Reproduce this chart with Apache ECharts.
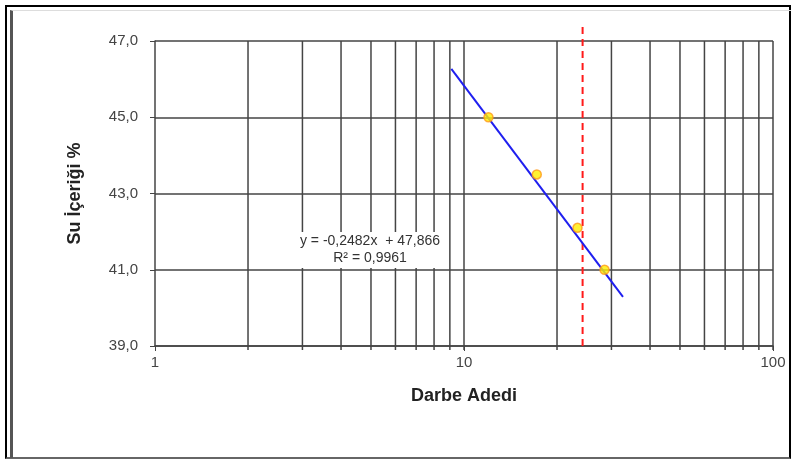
<!DOCTYPE html>
<html>
<head>
<meta charset="utf-8">
<script src="https://cdn.jsdelivr.net/npm/echarts@6/dist/echarts.min.js"></script>
<style>
	html, body { margin: 0; padding: 0; background: #fff; }
	#frame { position: absolute; left: 5px; top: 5px; width: 782px; height: 450px; border: 2px solid #000; border-bottom: 2px solid #666; }
	#inner { position: absolute; left: 10px; top: 10px; width: 779px; height: 447px; border-left: 3px solid #555; border-top: 1px solid #ddd; }
	#chart { position: absolute; left: 0; top: 0; width: 791px; height: 459px; }
</style>
</head>
<body>
<div id="frame"></div>
<div id="inner"></div>
<div id="chart"></div>
<script>
// okunan değerler
const darbe = [12.0, 17.2, 23.3, 28.5];
const suIcerigi = [45.0, 43.5, 42.1, 41.0];
const trendX = [9.1, 32.7];
const trendY = [46.27, 40.29];
const limitX = 24.2; // kırmızı kesikli çizgi
const gridXs = [2, 3, 4, 5, 6, 7, 8, 9, 10, 20, 30, 40, 50, 60, 70, 80, 90, 100];
const yMin = 39, yMax = 47, yStep = 2;

const myChart = echarts.init(document.getElementById("chart"));
const font = "'Liberation Sans', Arial, sans-serif";

let option = {
	animation: false,
	grid: { left: 155, right: 18, top: 41, bottom: 113 },
	xAxis: {
		type: "log",
		logBase: 10,
		min: 1,
		max: 100,
		name: "Darbe Adedi",
		nameLocation: "middle",
		nameGap: 41,
		nameTextStyle: { fontFamily: font, fontSize: 18, fontWeight: "bold", color: "#222" },
		axisLine: { show: true, lineStyle: { color: "#444", width: 1.5 } },
		axisTick: { show: true, length: 5, lineStyle: { color: "#444" } },
		axisLabel: { fontFamily: font, fontSize: 15, color: "#444", margin: 9 },
		splitLine: { show: false }
	},
	yAxis: {
		type: "value",
		min: yMin,
		max: yMax,
		interval: yStep,
		name: "Su İçeriği %",
		nameLocation: "middle",
		nameGap: 71,
		nameRotate: 90,
		nameTextStyle: { fontFamily: font, fontSize: 18, fontWeight: "bold", color: "#222" },
		axisLine: { show: true, lineStyle: { color: "#444", width: 1.5 } },
		axisTick: { show: true, length: 5, lineStyle: { color: "#444" } },
		axisLabel: {
			fontFamily: font, fontSize: 15, color: "#444", margin: 17,
			formatter: (v) => v.toFixed(1).replace(".", ",")
		},
		splitLine: { show: true, lineStyle: { color: "#444", width: 1.5 } }
	},
	graphic: [
		{
			type: "text",
			x: 370,
			y: 232,
			z: 10,
			style: {
				text: "y = -0,2482x  + 47,866\nR² = 0,9961",
				align: "center",
				verticalAlign: "top",
				fontFamily: font,
				fontSize: 14,
				lineHeight: 17,
				fill: "#333",
				backgroundColor: "#fff",
				padding: [1, 2]
			}
		}
	],
	series: [
		{
			// dikey ızgara çizgileri (log eksen)
			type: "custom",
			silent: true,
			clip: false,
			z: 1,
			data: gridXs.map((x) => [x, yMin]),
			renderItem: (params, api) => {
				const top = api.coord([api.value(0), yMax]);
				const bot = api.coord([api.value(0), yMin]);
				return {
					type: "line",
					shape: { x1: top[0], y1: top[1], x2: bot[0], y2: bot[1] + 4 },
					style: { stroke: "#444", lineWidth: 1.5 }
				};
			}
		},
		{
			type: "line",
			silent: true,
			clip: false,
			z: 3,
			symbol: "none",
			data: [[limitX, yMin], [limitX, 47.4]],
			lineStyle: { color: "#ff1a1a", width: 2, type: [7, 5] }
		},
		{
			type: "line",
			silent: true,
			z: 4,
			symbol: "none",
			data: trendX.map((x, i) => [x, trendY[i]]),
			lineStyle: { color: "#1f1fef", width: 2 }
		},
		{
			type: "scatter",
			z: 5,
			symbolSize: 9,
			data: darbe.map((x, i) => [x, suIcerigi[i]]),
			itemStyle: { color: "#ffee00", borderColor: "#ff9a1a", borderWidth: 1.5 }
		}
	]
};
myChart.setOption(option);
</script>
</body>
</html>
